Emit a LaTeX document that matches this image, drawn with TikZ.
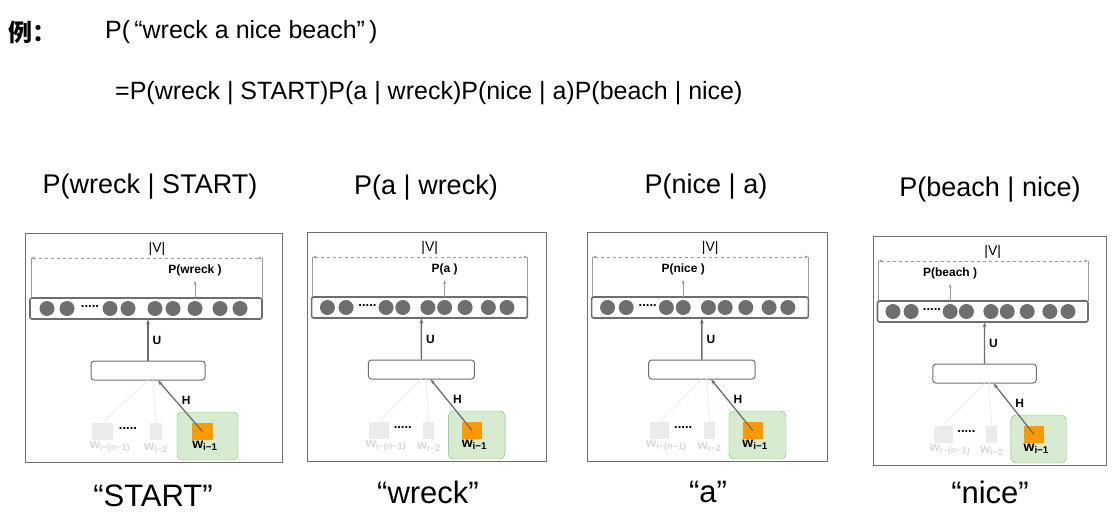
\documentclass[tikz,border=0pt]{standalone}
\usepackage{fontspec}
\setmainfont{Liberation Sans}
\newfontfamily\cjk{Noto Sans CJK SC}
\usetikzlibrary{arrows.meta}
\definecolor{cgray}{RGB}{110,110,110}
\definecolor{cgreen}{RGB}{214,235,208}
\definecolor{cgreenb}{RGB}{120,190,110}
\definecolor{corange}{RGB}{255,153,0}
\definecolor{clight}{RGB}{235,235,235}
\definecolor{ctext}{RGB}{215,215,215}
\tikzset{
 frame/.style={draw=cgray,line width=0.8pt},
 rowbox/.style={draw=cgray,line width=1.6pt,rounded corners=2pt},
 hid/.style={draw=cgray,line width=1pt,rounded corners=3pt,fill=white},
 small/.style={font=\bfseries\fontsize{12}{13}\selectfont,inner sep=0},
 big/.style={font=\fontsize{27}{30}\selectfont,inner sep=0},
 bot/.style={font=\fontsize{31}{34}\selectfont,inner sep=0},
}
\newcommand\mypanel[6]{% #1 name #2 x0 #3 y0 #4 xscale #5 circle x #6 label
\begin{scope}[shift={(#2,#3)},xscale=#4]
\node[frame,minimum width=257*#4,minimum height=229,anchor=north west,inner sep=0] (#1f) at (0,0) {};
\draw[rowbox] (5,65) rectangle (237,86);
\foreach \cx in {22,42,85,103,130,148,170,195,215}{\fill[cgray] (\cx,75.5) ellipse ({7.5/#4} and 7.5);}
\node[font=\bfseries\fontsize{13}{13}\selectfont,inner sep=0] (#1d) at (65,74) {.....};
\node[hid,minimum width=114*#4,minimum height=19,inner sep=0] (#1h) at (123,137.5) {};
\node[fill=clight,minimum width=21*#4,minimum height=17,inner sep=0] (#1a) at (77.5,198.5) {};
\node[fill=clight,minimum width=12*#4,minimum height=17,inner sep=0] (#1b) at (131,198.5) {};
\node[fill=cgreen,draw=cgreenb,rounded corners=5pt,minimum width=61*#4,minimum height=48,inner sep=0] (#1g) at (182.5,203) {};
\node[fill=corange,minimum width=21*#4,minimum height=17,inner sep=0] (#1o) at (177.5,198.5) {};
\node[font=\bfseries\fontsize{13}{13}\selectfont,inner sep=0] (#1e) at (103,196) {.....};
\node[inner sep=0,text=ctext,font=\bfseries\fontsize{13}{13}\selectfont] (#1la) at (85,214) {w\textsubscript{i−(n−1)}};
\node[inner sep=0,text=ctext,font=\bfseries\fontsize{13}{13}\selectfont] (#1lb) at (131,215) {w\textsubscript{i−2}};
\node[inner sep=0,font=\bfseries\fontsize{14}{14}\selectfont] (#1lc) at (180,213) {w\textsubscript{i−1}};
\draw[clight,line width=0.8pt] (#1a.north) -- (123,147);
\draw[clight,line width=0.8pt] (#1b.north) -- (128,147);
\draw[cgray,line width=1.3pt,-{Stealth[length=5pt]}] (#1o.center) -- (133,147.5) node[midway,above right=1pt,small,text=black] (#1H) {H};
\draw[cgray,line width=1.3pt,-{Stealth[length=5pt]}] (#1h.north) -- (123,86.5) node[midway,right=4pt,small,text=black] (#1U) {U};
\draw[cgray!70,line width=0.5pt,dashed,{Stealth[length=4pt]}-{Stealth[length=4pt]}] (6,25) -- (237,25);
\draw[cgray!70,line width=0.4pt] (6,25) -- (6,65) (237,25) -- (237,65);
\node[font=\fontsize{14}{14}\selectfont,inner sep=0] (#1V) at (132,16) {|V|};
\draw[cgray!70,line width=0.5pt,-{Stealth[length=4pt]}] (#5,65) -- (#5,48);
\node[small,anchor=south] (#1P) at (#5,43) {#6};
\end{scope}}
\begin{document}
\begin{tikzpicture}[x=1pt,y=-1pt]
\useasboundingbox (0,0) rectangle (1118,516);
\node[anchor=west,inner sep=0,font=\cjk\bfseries\fontsize{24}{28}\selectfont] (li) at (8,32) {例：};
\node[anchor=west,inner sep=0,font=\fontsize{25}{30}\selectfont] (t1) at (105,32) {P(\,“wreck a nice beach”\,)};
\node[anchor=west,inner sep=0,font=\fontsize{25}{30}\selectfont] (t2) at (115,93) {=P(wreck | START)P(a | wreck)P(nice | a)P(beach | nice)};
\node[big] (h1) at (150,187) {P(wreck | START)};
\node[big] (h2) at (426,188) {P(a | wreck)};
\node[big] (h3) at (706,187) {P(nice | a)};
\node[big] (h4) at (990,190) {P(beach | nice)};
\mypanel{p1}{25}{233}{1}{170}{P(wreck )}
\mypanel{p2}{307}{232}{0.93}{148}{P(a )}
\mypanel{p3}{587}{232}{0.934}{103}{P(nice )}
\mypanel{p4}{873}{236}{0.907}{85}{P(beach )}
\node[bot] (b1) at (153,496) {“START”};
\node[bot] (b2) at (428,492) {“wreck”};
\node[bot] (b3) at (708,492) {“a”};
\node[bot] (b4) at (990,492) {“nice”};
\end{tikzpicture}
\end{document}
